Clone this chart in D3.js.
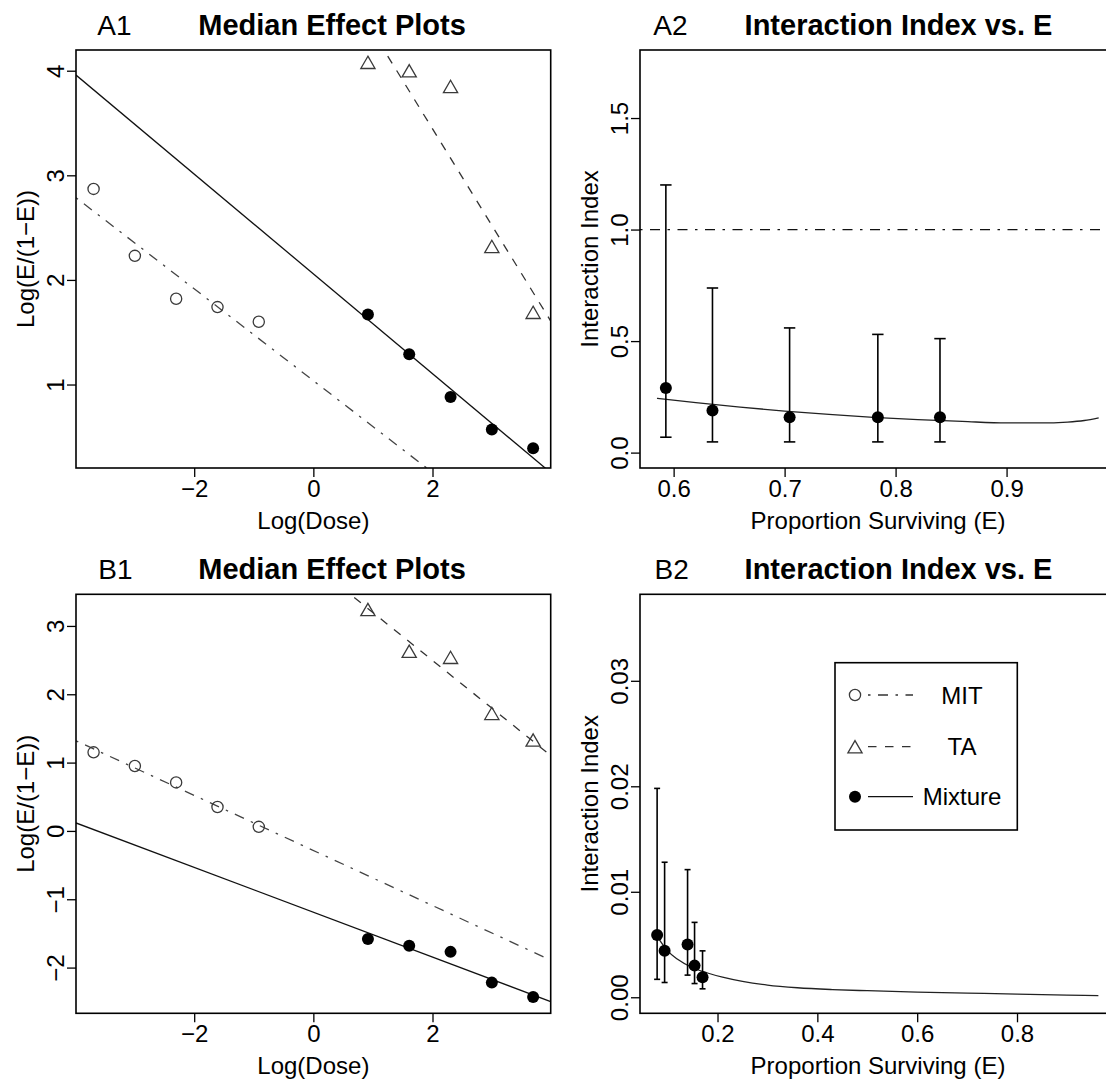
<!DOCTYPE html>
<html><head><meta charset="utf-8">
<script src="https://cdn.jsdelivr.net/npm/d3@7"></script>
<style>
body{margin:0;background:#fff}
svg{display:block}
text{font-family:"Liberation Sans",Arial,Helvetica,sans-serif;fill:#000}
</style>
</head><body>
<svg id="chart" width="1106" height="1082"></svg>
<script>
// ---------------- DATA ----------------
// log doses
const logDoseMIT = [-3.689, -2.996, -2.303, -1.609, -0.916];
const logDoseTA  = [0.916, 1.609, 2.303, 2.996, 3.689];
const logDoseMix = [0.916, 1.609, 2.303, 2.996, 3.689];

// Panel A1: log(E/(1-E))
const a1MIT = [2.87, 2.23, 1.82, 1.74, 1.60];
const a1TA  = [4.08, 4.00, 3.85, 2.32, 1.69];
const a1Mix = [1.67, 1.29, 0.88, 0.57, 0.39];
// fitted lines [intercept, slope]
const a1FitMIT = [1.037, -0.439];
const a1FitTA  = [5.296, -0.926];
const a1FitMix = [2.058, -0.477];

// Panel B1
const b1MIT = [1.15, 0.95, 0.71, 0.35, 0.06];
const b1TA  = [3.24, 2.63, 2.54, 1.72, 1.33];
const b1Mix = [-1.58, -1.68, -1.77, -2.22, -2.43];
const b1FitMIT = [-0.286, -0.403];
const b1FitTA  = [3.897, -0.701];
const b1FitMix = [-1.190, -0.328];

// Panel A2: interaction index vs E
const a2E    = [0.593, 0.635, 0.7045, 0.784, 0.840];
const a2II   = [0.290, 0.189, 0.159, 0.159, 0.159];
const a2Low  = [0.069, 0.048, 0.048, 0.048, 0.048];
const a2High = [1.200, 0.738, 0.559, 0.530, 0.511];
const a2CurveE  = [0.585, 0.62, 0.66, 0.70, 0.74, 0.78, 0.82, 0.86, 0.90, 0.93, 0.955, 0.97, 0.983];
const a2CurveII = [0.243, 0.224, 0.204, 0.186, 0.171, 0.158, 0.148, 0.140, 0.133, 0.133, 0.137, 0.144, 0.156];
const a2RefLine = 1.0;

// Panel B2
const b2E    = [0.079, 0.094, 0.140, 0.154, 0.170];
const b2II   = [0.0059, 0.0044, 0.0050, 0.0030, 0.0019];
const b2Low  = [0.0017, 0.0014, 0.0021, 0.0013, 0.0008];
const b2High = [0.0198, 0.0128, 0.0121, 0.0071, 0.0044];
const b2CurveE  = [0.08, 0.10, 0.12, 0.15, 0.18, 0.21, 0.25, 0.30, 0.36, 0.43, 0.50, 0.60, 0.70, 0.80, 0.90, 0.963];
const b2CurveII = [0.0057, 0.0044, 0.0036, 0.0028, 0.0023, 0.0019, 0.0015, 0.00115, 0.00090, 0.00073, 0.00062, 0.00049, 0.00040, 0.00030, 0.00021, 0.00016];

// ticks
const medXTicks = [-2, 0, 2];
const a1YTicks = [1, 2, 3, 4];
const b1YTicks = [-2, -1, 0, 1, 2, 3];
const a2XTicks = [0.6, 0.7, 0.8, 0.9];
const a2YTicks = [0.0, 0.5, 1.0, 1.5];
const b2XTicks = [0.2, 0.4, 0.6, 0.8];
const b2YTicks = [0.00, 0.01, 0.02, 0.03];

const legendLabels = ["MIT", "TA", "Mixture"];

// ---------------- DRAWING ----------------
const svg = d3.select("#chart");
svg.append("rect").attr("width",1106).attr("height",1082).attr("fill","#fff");

const FS = 24;
const DASH_MIT = "2.5,7.5,10,7.5";
const DASH_TA = "8.5,8.5";
const GREY = "#3a3a3a";
const minus = s => String(s).replace("-", "\u2212");

let clipId = 0;
function panel(cfg) {
  const b = cfg.box;
  const x = d3.scaleLinear().domain(cfg.xDomain).range([b.x0, b.x1]);
  const y = d3.scaleLinear().domain(cfg.yDomain).range([b.y1, b.y0]);
  const g = svg.append("g");
  const id = "clip" + (clipId++);
  g.append("clipPath").attr("id", id).append("rect")
    .attr("x", b.x0).attr("y", b.y0).attr("width", b.x1 - b.x0).attr("height", b.y1 - b.y0);
  const inner = g.append("g").attr("clip-path", `url(#${id})`);

  // axes
  const xa = g.append("g").attr("transform", `translate(0,${b.y1})`)
    .call(d3.axisBottom(x).tickValues(cfg.xTicks).tickSize(9).tickPadding(3).tickFormat(cfg.xFmt));
  const ya = g.append("g").attr("transform", `translate(${b.x0},0)`)
    .call(d3.axisLeft(y).tickValues(cfg.yTicks).tickSize(9).tickFormat(cfg.yFmt));
  [xa, ya].forEach(a => {
    a.select(".domain").remove();
    a.selectAll("line").attr("stroke", "#000").attr("stroke-width", 1.3);
    a.selectAll("text").attr("font-size", FS).attr("font-family", "Liberation Sans, Arial, sans-serif").attr("fill", "#000");
  });
  ya.selectAll("text").attr("transform", "rotate(-90)").attr("x", 0).attr("y", -12)
    .attr("dy", 0).attr("text-anchor", "middle");

  // box
  g.append("rect").attr("x", b.x0).attr("y", b.y0).attr("width", b.x1 - b.x0).attr("height", b.y1 - b.y0)
    .attr("fill", "none").attr("stroke", "#000").attr("stroke-width", 1.6);

  // titles
  g.append("text").attr("x", cfg.tagX).attr("y", b.y0 - 15.5).attr("font-size", 28).text(cfg.tag);
  g.append("text").attr("x", cfg.titleX).attr("y", b.y0 - 15.5).attr("font-size", 29)
    .attr("font-weight", "bold").text(cfg.title);
  g.append("text").attr("x", (b.x0 + b.x1) / 2).attr("y", b.y1 + 61).attr("text-anchor", "middle")
    .attr("font-size", FS).text(cfg.xLabel);
  g.append("text").attr("transform", `translate(${b.x0 - 42},${(b.y0 + b.y1) / 2}) rotate(-90)`)
    .attr("text-anchor", "middle").attr("font-size", FS).text(cfg.yLabel);
  return {x, y, g, inner};
}

function fitLine(p, fit, dash, color) {
  const [x0, x1] = p.x.domain();
  const pts = [[x0, fit[0] + fit[1] * x0], [x1, fit[0] + fit[1] * x1]];
  p.inner.append("path")
    .attr("d", d3.line().x(d => p.x(d[0])).y(d => p.y(d[1]))(pts))
    .attr("fill", "none").attr("stroke", color).attr("stroke-width", 1.3)
    .attr("stroke-dasharray", dash);
}
function openCircles(p, xs, ys) {
  p.g.append("g").selectAll("circle").data(xs).join("circle")
    .attr("cx", (d) => p.x(d)).attr("cy", (d, i) => p.y(ys[i])).attr("r", 5.6)
    .attr("fill", "none").attr("stroke", GREY).attr("stroke-width", 1.3);
}
const triPath = r => `M0,${-0.75*r}L${0.866*r},${0.75*r}L${-0.866*r},${0.75*r}Z`;
function triangles(p, xs, ys) {
  p.g.append("g").selectAll("path").data(xs).join("path")
    .attr("transform", (d, i) => `translate(${p.x(d)},${p.y(ys[i])})`)
    .attr("d", triPath(8.2))
    .attr("fill", "none").attr("stroke", GREY).attr("stroke-width", 1.3);
}
function dots(p, xs, ys) {
  p.g.append("g").selectAll("circle").data(xs).join("circle")
    .attr("cx", (d) => p.x(d)).attr("cy", (d, i) => p.y(ys[i])).attr("r", 6)
    .attr("fill", "#000");
}
function errorBars(p, xs, lo, hi, cap) {
  const g = p.g.append("g").attr("stroke", "#000").attr("stroke-width", 1.6);
  xs.forEach((d, i) => {
    const cx = p.x(d);
    g.append("line").attr("x1", cx).attr("x2", cx).attr("y1", p.y(lo[i])).attr("y2", p.y(hi[i]));
    g.append("line").attr("x1", cx - cap).attr("x2", cx + cap).attr("y1", p.y(lo[i])).attr("y2", p.y(lo[i]));
    g.append("line").attr("x1", cx - cap).attr("x2", cx + cap).attr("y1", p.y(hi[i])).attr("y2", p.y(hi[i]));
  });
}
function curve(p, xs, ys) {
  p.inner.append("path")
    .attr("d", d3.line().curve(d3.curveMonotoneX).x(d => p.x(d[0])).y(d => p.y(d[1]))(xs.map((v, i) => [v, ys[i]])))
    .attr("fill", "none").attr("stroke", "#222").attr("stroke-width", 1.3);
}

const fmtInt = d => minus(d3.format("d")(d));

// ---- A1 ----
const pA1 = panel({
  box: {x0: 76, x1: 550.7, y0: 50, y1: 468},
  xDomain: [-3.984, 3.984], yDomain: [0.202, 4.198],
  xTicks: medXTicks, yTicks: a1YTicks, xFmt: fmtInt, yFmt: fmtInt,
  tag: "A1", tagX: 97.3, title: "Median Effect Plots", titleX: 198.3,
  xLabel: "Log(Dose)", yLabel: "Log(E/(1\u2212E))"
});
fitLine(pA1, a1FitMIT, DASH_MIT, "#444");
fitLine(pA1, a1FitTA, DASH_TA, "#333");
fitLine(pA1, a1FitMix, null, "#111");
openCircles(pA1, logDoseMIT, a1MIT);
triangles(pA1, logDoseTA, a1TA);
dots(pA1, logDoseMix, a1Mix);

// ---- B1 ----
const pB1 = panel({
  box: {x0: 76, x1: 550.7, y0: 594.3, y1: 1013.3},
  xDomain: [-3.984, 3.984], yDomain: [-2.669, 3.463],
  xTicks: medXTicks, yTicks: b1YTicks, xFmt: fmtInt, yFmt: fmtInt,
  tag: "B1", tagX: 98.3, title: "Median Effect Plots", titleX: 198.3,
  xLabel: "Log(Dose)", yLabel: "Log(E/(1\u2212E))"
});
fitLine(pB1, b1FitMIT, DASH_MIT, "#444");
fitLine(pB1, b1FitTA, DASH_TA, "#333");
fitLine(pB1, b1FitMix, null, "#111");
openCircles(pB1, logDoseMIT, b1MIT);
triangles(pB1, logDoseTA, b1TA);
dots(pB1, logDoseMix, b1Mix);

// ---- A2 ----
const pA2 = panel({
  box: {x0: 640, x1: 1116, y0: 50, y1: 468},
  xDomain: [0.5697, 0.9986], yDomain: [-0.069, 1.805],
  xTicks: a2XTicks, yTicks: a2YTicks, xFmt: d3.format(".1f"), yFmt: d3.format(".1f"),
  tag: "A2", tagX: 653.3, title: "Interaction Index vs. E", titleX: 744.6,
  xLabel: "Proportion Surviving (E)", yLabel: "Interaction Index"
});
pA2.inner.append("line")
  .attr("x1", pA2.x.range()[0]).attr("x2", pA2.x.range()[1])
  .attr("y1", pA2.y(a2RefLine)).attr("y2", pA2.y(a2RefLine))
  .attr("stroke", "#111").attr("stroke-width", 1.3).attr("stroke-dasharray", DASH_MIT);
curve(pA2, a2CurveE, a2CurveII);
errorBars(pA2, a2E, a2Low, a2High, 5.7);
dots(pA2, a2E, a2II);

// ---- B2 ----
const pB2 = panel({
  box: {x0: 640, x1: 1116, y0: 594.3, y1: 1013.3},
  xDomain: [0.0447, 0.9983], yDomain: [-0.00152, 0.0382],
  xTicks: b2XTicks, yTicks: b2YTicks, xFmt: d3.format(".1f"), yFmt: d3.format(".2f"),
  tag: "B2", tagX: 654.5, title: "Interaction Index vs. E", titleX: 744.6,
  xLabel: "Proportion Surviving (E)", yLabel: "Interaction Index"
});
curve(pB2, b2CurveE, b2CurveII);
errorBars(pB2, b2E, b2Low, b2High, 3);
dots(pB2, b2E, b2II);

// ---- Legend (in B2) ----
const lg = svg.append("g");
lg.append("rect").attr("x", 835).attr("y", 662.7).attr("width", 182.3).attr("height", 167.3)
  .attr("fill", "#fff").attr("stroke", "#000").attr("stroke-width", 1.6);
const legRows = [695, 746.7, 796.7];
const legDash = [DASH_MIT, DASH_TA, null];
legendLabels.forEach((lab, i) => {
  const yy = legRows[i];
  lg.append("line").attr("x1", 868).attr("x2", 913).attr("y1", yy).attr("y2", yy)
    .attr("stroke", i === 2 ? "#111" : "#333").attr("stroke-width", 1.3)
    .attr("stroke-dasharray", legDash[i]);
  if (i === 0) lg.append("circle").attr("cx", 855).attr("cy", yy).attr("r", 5.6)
    .attr("fill", "none").attr("stroke", GREY).attr("stroke-width", 1.3);
  if (i === 1) lg.append("path").attr("transform", `translate(855,${yy})`).attr("d", triPath(8.2))
    .attr("fill", "none").attr("stroke", GREY).attr("stroke-width", 1.3);
  if (i === 2) lg.append("circle").attr("cx", 855).attr("cy", yy).attr("r", 6).attr("fill", "#000");
  lg.append("text").attr("x", 962).attr("y", yy).attr("dy", "0.36em").attr("text-anchor", "middle")
    .attr("font-size", FS).text(lab);
});
</script>
</body></html>
